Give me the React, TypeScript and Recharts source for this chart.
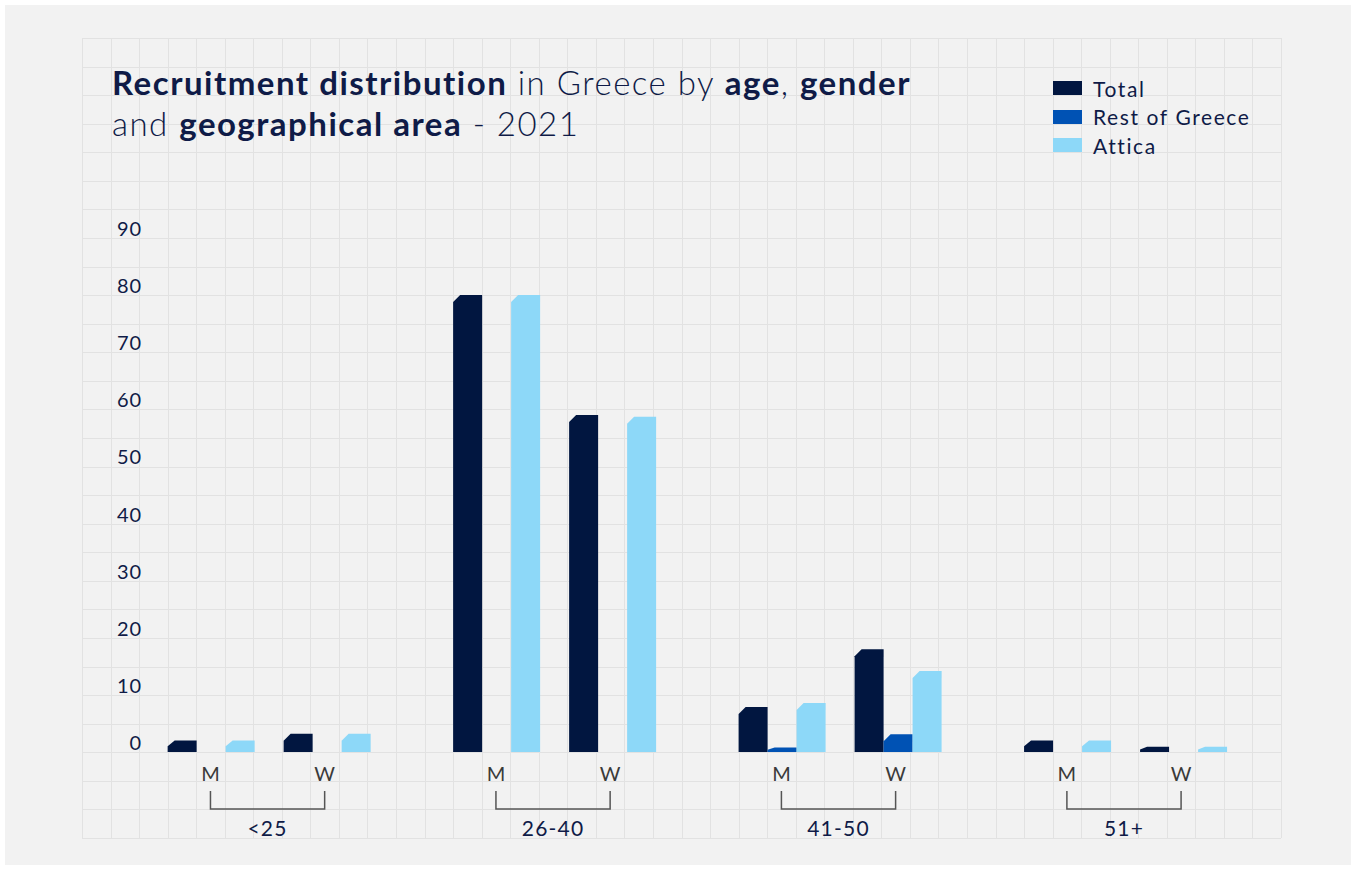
import { BarChart, Bar, XAxis, YAxis } from 'recharts';

// age groups on the x axis, values per gender and area
const ages = ['<25', '26-40', '41-50', '51+'];
const totalMen = [2, 80, 7.9, 2];
const restMen = [0, 0, 0.8, 0];
const atticaMen = [2, 80, 8.6, 2];
const totalWomen = [3.2, 59, 18, 0.9];
const restWomen = [0, 0, 3.1, 0];
const atticaWomen = [3.2, 58.7, 14.2, 0.9];
const yTicks = [0, 10, 20, 30, 40, 50, 60, 70, 80, 90];

const seriesNames = ['Total', 'Rest of Greece', 'Attica'];
const COLORS = ['#011640', '#0052b4', '#8dd8f8'];

const NAVY = '#0f1b47';
const FONT = 'Lato, "Noto Sans", sans-serif';

const data = ages.map((age, i) => ({
    age,
    totalM: totalMen[i],
    restM: restMen[i],
    atticaM: atticaMen[i],
    totalW: totalWomen[i],
    restW: restWomen[i],
    atticaW: atticaWomen[i],
}));

// grid behind everything
const GRID_X0 = 82, GRID_X1 = 1281, GRID_Y0 = 38, GRID_Y1 = 838;
const COLS = 42, ROWS = 28;
const CELL = (GRID_X1 - GRID_X0) / COLS;

function Grid() {
    const lines = [];
    for (let i = 0; i <= COLS; i++) {
        const x = Math.round(GRID_X0 + i * CELL) + 0.5;
        lines.push(<line key={'v' + i} x1={x} x2={x} y1={GRID_Y0} y2={GRID_Y1} stroke="#e2e2e2" />);
    }
    for (let j = 0; j <= ROWS; j++) {
        const y = Math.round(GRID_Y0 + (j * (GRID_Y1 - GRID_Y0)) / ROWS) + 0.5;
        lines.push(<line key={'h' + j} x1={GRID_X0} x2={GRID_X1} y1={y} y2={y} stroke="#e2e2e2" />);
    }
    return (
        <svg width={1356} height={869} style={{ position: 'absolute', left: 0, top: 0 }}>
            {lines}
        </svg>
    );
}

// bar with the top-left corner cut off
function ChamferBar(props: any) {
    const { x, y, width, height, fill } = props;
    if (!height || height <= 0) return null;
    const cx = Math.min(7, width / 3);
    const cy = Math.min(7, height * 0.5);
    const d = `M${x},${y + height} L${x},${y + cy} L${x + cx},${y} L${x + width},${y} L${x + width},${y + height} Z`;
    return <path d={d} fill={fill} />;
}

function YTick(props: any) {
    const { x, y, payload } = props;
    return (
        <text x={x + 25} y={y - 2} textAnchor="end" fontSize={20} letterSpacing={0.8} fill={NAVY} fontFamily={FONT}>
            {payload.value}
        </text>
    );
}

function AgeTick(props: any) {
    const { x, y, payload } = props;
    const off = CELL * 2;
    return (
        <g fontFamily={FONT}>
            <text x={x - off} y={y + 21} textAnchor="middle" fontSize={20} fill="#3a3a3a">M</text>
            <text x={x + off} y={y + 21} textAnchor="middle" fontSize={20} fill="#3a3a3a">W</text>
            <path
                d={`M${x - off},${y + 31} V${y + 49} H${x + off} V${y + 31}`}
                fill="none"
                stroke="#555"
                strokeWidth={1.5}
            />
            <text x={x} y={y + 76} textAnchor="middle" fontSize={21} letterSpacing={1.2} fill={NAVY}>{payload.value}</text>
        </g>
    );
}

function LegendBox() {
    return (
        <div style={{ position: 'absolute', left: 1053, top: 74, fontFamily: FONT }}>
            {seriesNames.map((name, i) => (
                <div key={name} style={{ display: 'flex', alignItems: 'center', height: 28.5 }}>
                    <div style={{ width: 29, height: 14, background: COLORS[i], marginRight: 11 }} />
                    <span style={{ fontSize: 21, letterSpacing: 1.6, color: NAVY, whiteSpace: 'nowrap' }}>{name}</span>
                </div>
            ))}
        </div>
    );
}

export default function App() {
    const plotLeft = GRID_X0 + CELL * 1.5;
    const plotRight = plotLeft + CELL * 40;
    return (
        <div style={{ position: 'absolute', left: 0, top: 0, width: 1356, height: 869, background: '#fff', overflow: 'hidden' }}>
            <div style={{ position: 'absolute', left: 5, top: 5, width: 1346, height: 860, background: '#f2f2f2' }} />
            <Grid />
            <div
                style={{
                    position: 'absolute',
                    left: 112,
                    top: 62,
                    fontFamily: FONT,
                    fontSize: 33,
                    lineHeight: '41px',
                    letterSpacing: 1.5,
                    color: NAVY,
                    fontWeight: 300,
                    whiteSpace: 'nowrap',
                }}
            >
                <div>
                    <b style={{ fontWeight: 700 }}>Recruitment distribution</b> in Greece by <b style={{ fontWeight: 700 }}>age</b>, <b style={{ fontWeight: 700 }}>gender</b>
                </div>
                <div>
                    and <b style={{ fontWeight: 700 }}>geographical area</b> - 2021
                </div>
            </div>
            <LegendBox />
            <div style={{ position: 'absolute', left: 0, top: 0 }}>
                <BarChart
                    width={1356}
                    height={869}
                    data={data}
                    barGap={0}
                    barCategoryGap="15%"
                    margin={{ top: 238, left: plotLeft - 60, right: 1356 - plotRight, bottom: 27 }}
                >
                    <XAxis dataKey="age" tickLine={false} axisLine={false} height={90} interval={0} tick={<AgeTick />} />
                    <YAxis
                        width={60}
                        domain={[0, 90]}
                        ticks={yTicks}
                        tickLine={false}
                        axisLine={false}
                        tick={<YTick />}
                    />
                    <Bar dataKey="totalM" fill={COLORS[0]} shape={<ChamferBar />} isAnimationActive={false} />
                    <Bar dataKey="restM" fill={COLORS[1]} shape={<ChamferBar />} isAnimationActive={false} />
                    <Bar dataKey="atticaM" fill={COLORS[2]} shape={<ChamferBar />} isAnimationActive={false} />
                    <Bar dataKey="gap" fill="none" isAnimationActive={false} />
                    <Bar dataKey="totalW" fill={COLORS[0]} shape={<ChamferBar />} isAnimationActive={false} />
                    <Bar dataKey="restW" fill={COLORS[1]} shape={<ChamferBar />} isAnimationActive={false} />
                    <Bar dataKey="atticaW" fill={COLORS[2]} shape={<ChamferBar />} isAnimationActive={false} />
                </BarChart>
            </div>
        </div>
    );
}
